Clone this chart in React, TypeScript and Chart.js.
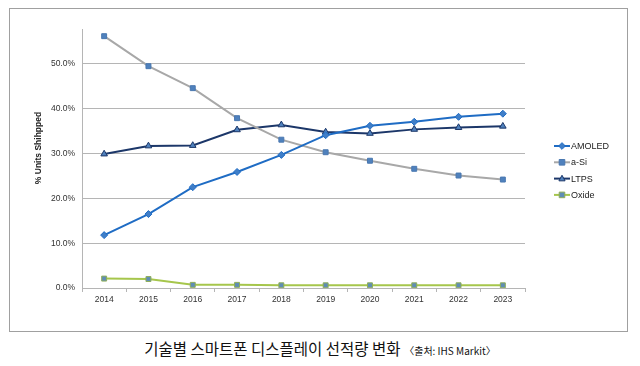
import React, { useEffect, useRef } from "react";
import { Chart, registerables } from "chart.js";

Chart.register(...registerables);

const years = ["2014", "2015", "2016", "2017", "2018", "2019", "2020", "2021", "2022", "2023"];
const amoled = [11.8, 16.5, 22.5, 25.9, 29.7, 34.1, 36.2, 37.1, 38.2, 38.9];
const aSi = [56.2, 49.5, 44.6, 37.9, 33.1, 30.3, 28.4, 26.6, 25.1, 24.2];
const ltps = [29.9, 31.7, 31.8, 35.3, 36.4, 34.8, 34.5, 35.4, 35.8, 36.1];
const oxide = [2.1, 2.0, 0.7, 0.7, 0.6, 0.6, 0.6, 0.6, 0.6, 0.6];
const yTicks = [0, 10, 20, 30, 40, 50];
const seriesNames = ["AMOLED", "a-Si", "LTPS", "Oxide"];
const yTitle = "% Units Shihpped";
const chartTitle = "기술별 스마트폰 디스플레이 선적량 변화";
const chartSource = "〈출처: IHS Markit〉";

const FONT = "'Liberation Sans', Arial, sans-serif";

function marker(ctx: any, style: string, x: number, y: number, r: number, fill: string, stroke: string) {
  ctx.beginPath();
  if (style === "rect") {
    ctx.rect(x - r, y - r, 2 * r, 2 * r);
  } else if (style === "rectRot") {
    ctx.moveTo(x, y - r * 1.2);
    ctx.lineTo(x + r * 1.2, y);
    ctx.lineTo(x, y + r * 1.2);
    ctx.lineTo(x - r * 1.2, y);
    ctx.closePath();
  } else {
    ctx.moveTo(x, y - r * 1.2);
    ctx.lineTo(x + r * 1.1, y + r * 0.8);
    ctx.lineTo(x - r * 1.1, y + r * 0.8);
    ctx.closePath();
  }
  ctx.fillStyle = fill;
  ctx.fill();
  ctx.strokeStyle = stroke;
  ctx.lineWidth = 1;
  ctx.stroke();
}

const legendPlugin = {
  id: "sideLegend",
  afterDraw(chart: any) {
    const ctx = chart.ctx;
    const x0 = 544;
    const y0 = 137;
    const gap = 16.3;
    chart.data.datasets.forEach((ds: any, i: number) => {
      const y = y0 + i * gap;
      ctx.save();
      ctx.strokeStyle = ds.borderColor;
      ctx.lineWidth = 2;
      ctx.beginPath();
      ctx.moveTo(x0, y);
      ctx.lineTo(x0 + 16, y);
      ctx.stroke();
      marker(ctx, ds.pointStyle, x0 + 8, y, 2.8, ds.pointBackgroundColor, ds.pointBorderColor);
      ctx.fillStyle = "#222";
      ctx.font = `9px ${FONT}`;
      ctx.textBaseline = "middle";
      ctx.textAlign = "left";
      ctx.fillText(seriesNames[i], x0 + 17, y + 0.5);
      ctx.restore();
    });
    // y axis title
    ctx.save();
    ctx.translate(29, 139);
    ctx.rotate(-Math.PI / 2);
    ctx.fillStyle = "#222";
    ctx.font = `bold 8.5px ${FONT}`;
    ctx.textAlign = "center";
    ctx.textBaseline = "middle";
    ctx.fillText(yTitle, 0, 0);
    ctx.restore();
  },
};

export default function App() {
  const ref = useRef<HTMLCanvasElement>(null);

  useEffect(() => {
    if (!ref.current) return;
    const mk = (
      label: string,
      data: number[],
      line: string,
      style: string,
      fill: string,
      border: string,
      radius: number
    ) => ({
      label,
      data,
      borderColor: line,
      borderWidth: 2,
      pointStyle: style,
      pointRadius: radius,
      pointHoverRadius: radius,
      pointBackgroundColor: fill,
      pointBorderColor: border,
      pointBorderWidth: 1,
      tension: 0,
      fill: false,
    });

    const chart = new Chart(ref.current, {
      type: "line",
      data: {
        labels: years,
        datasets: [
          mk(seriesNames[0], amoled, "#1f6cc4", "rectRot", "#3f7ec8", "#1f6cc4", 3.5),
          mk(seriesNames[1], aSi, "#a8a8a8", "rect", "#4f81bd", "#4a78b0", 3.5),
          mk(seriesNames[2], ltps, "#1c3769", "triangle", "#4f81bd", "#1c3769", 3.8),
          mk(seriesNames[3], oxide, "#a6c64c", "rect", "#5f8db5", "#8fae5a", 3.5),
        ] as any,
      },
      options: {
        responsive: false,
        animation: false,
        events: [],
        layout: { padding: { left: 0, right: 102, top: 20, bottom: 0 } },
        plugins: {
          legend: { display: false },
          tooltip: { enabled: false },
          title: { display: false },
        },
        scales: {
          x: {
            offset: true,
            grid: {
              offset: true,
              drawOnChartArea: false,
              drawTicks: true,
              tickLength: 4,
              color: "#b5b5b5",
            },
            border: { color: "#b5b5b5", width: 1 },
            ticks: {
              padding: 3,
              color: "#333",
              font: { family: FONT, size: 8.5 },
              maxRotation: 0,
              autoSkip: false,
            },
            afterFit(scale: any) {
              scale.height = 43;
            },
          },
          y: {
            min: 0,
            max: 57.8,
            afterBuildTicks(scale: any) {
              scale.ticks = yTicks.map((v) => ({ value: v }));
            },
            grid: {
              drawTicks: false,
              color: "#b5b5b5",
              lineWidth: 1,
            },
            border: { color: "#b5b5b5", width: 1 },
            ticks: {
              padding: 7,
              color: "#333",
              font: { family: FONT, size: 8.5 },
              callback: (v: any) => Number(v).toFixed(1) + "%",
            },
            afterFit(scale: any) {
              scale.width = 72;
            },
          },
        },
      } as any,
      plugins: [legendPlugin],
    });

    return () => chart.destroy();
  }, []);

  return (
    <div
      style={{
        position: "absolute",
        left: 0,
        top: 0,
        width: 640,
        height: 366,
        background: "#fff",
      }}
    >
      <div
        style={{
          position: "absolute",
          left: 9,
          top: 8,
          width: 617,
          height: 322,
          border: "1px solid #a0a0a0",
        }}
      >
        <canvas ref={ref} width={617} height={322} style={{ display: "block" }} />
      </div>
      <div
        style={{
          position: "absolute",
          left: 0,
          top: 338,
          width: 640,
          textAlign: "center",
          fontFamily: "'Noto Sans CJK KR', sans-serif",
          color: "#111",
          lineHeight: "20px",
          whiteSpace: "nowrap",
        }}
      >
        <span style={{ fontSize: 15.5 }}>{chartTitle}</span>{" "}
        <span style={{ fontSize: 10 }}>{chartSource}</span>
      </div>
    </div>
  );
}
